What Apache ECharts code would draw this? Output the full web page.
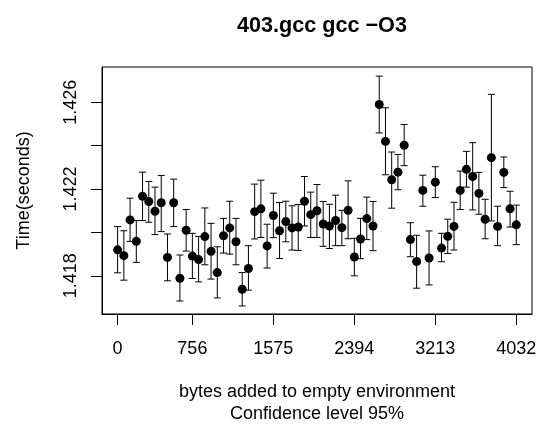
<!DOCTYPE html>
<html>
<head>
<meta charset="utf-8">
<script src="https://cdn.jsdelivr.net/npm/echarts@6/dist/echarts.min.js"></script>
<style>html,body{margin:0;padding:0;background:#fff}#c{width:544px;height:431px}</style>
</head>
<body>
<div id="c"></div>
<script>
const bytesAdded = [0,63,126,189,252,315,378,441,504,567,630,693,756,819,882,945,1008,1071,1134,1197,1260,1323,1386,1449,1512,1575,1638,1701,1764,1827,1890,1953,2016,2079,2142,2205,2268,2331,2394,2457,2520,2583,2646,2709,2772,2835,2898,2961,3024,3087,3150,3213,3276,3339,3402,3465,3528,3591,3654,3717,3780,3843,3906,3969,4032];
const meanTime = [
1.41920,1.41893,1.42058,1.41959,1.42167,1.42143,1.42098,1.42137,1.41885,1.42137,
1.41789,1.42010,1.41891,1.41875,1.41981,1.41913,1.41815,1.41985,1.42021,1.41957,
1.41738,1.41834,1.42096,1.42109,1.41938,1.42078,1.42008,1.42050,1.42021,1.42025,
1.42144,1.42082,1.42100,1.42039,1.42030,1.42055,1.42022,1.42102,1.41887,1.41970,
1.42064,1.42030,1.42590,1.42420,1.42243,1.42278,1.42402,1.41967,1.41866,1.42194,
1.41882,1.42232,1.41928,1.41982,1.42028,1.42194,1.42291,1.42258,1.42180,1.42061,
1.42345,1.42028,1.42277,1.42109,1.42035];
const upperCI = [
1.42027,1.42008,1.42158,1.42055,1.42278,1.42235,1.42209,1.42263,1.41993,1.42246,
1.41896,1.42106,1.41996,1.41982,1.42113,1.42042,1.41934,1.42065,1.42144,1.42065,
1.41815,1.41939,1.42223,1.42241,1.42038,1.42181,1.42138,1.42144,1.42123,1.42129,
1.42258,1.42186,1.42221,1.42143,1.42130,1.42172,1.42102,1.42238,1.41973,1.42065,
1.42163,1.42143,1.42721,1.42575,1.42371,1.42360,1.42498,1.42045,1.41987,1.42264,
1.42007,1.42303,1.41996,1.42061,1.42139,1.42283,1.42374,1.42414,1.42277,1.42153,
1.42637,1.42121,1.42348,1.42190,1.42126];
const lowerCI = [
1.41814,1.41780,1.41959,1.41862,1.42055,1.42047,1.41990,1.42004,1.41777,1.42027,
1.41684,1.41914,1.41788,1.41772,1.41851,1.41785,1.41698,1.41905,1.41900,1.41851,
1.41661,1.41734,1.41970,1.41977,1.41836,1.41976,1.41880,1.41957,1.41919,1.41917,
1.42030,1.41977,1.41977,1.41936,1.41926,1.41939,1.41939,1.41971,1.41800,1.41879,
1.41967,1.41916,1.42459,1.42266,1.42112,1.42197,1.42308,1.41888,1.41743,1.42121,
1.41758,1.42161,1.41865,1.41903,1.41919,1.42106,1.42209,1.42104,1.42084,1.41971,
1.42053,1.41939,1.42207,1.42025,1.41944];
const xTicks = [0,756,1575,2394,3213,4032];
const yTicks = [1.418,1.420,1.422,1.424,1.426];
const yTickLabels = [1.418,1.422,1.426];

const FONT = 'Liberation Sans, Arial, Helvetica, sans-serif';
const chart = echarts.init(document.getElementById('c'), null, {renderer:'canvas'});
const pts = bytesAdded.map((x,i)=>[x, meanTime[i]]);
const bars = bytesAdded.map((x,i)=>[x, lowerCI[i], upperCI[i]]);
chart.setOption({
  backgroundColor:'#fff',
  animation:false,
  title:{
    text:'403.gcc gcc \u2212O3',
    left:317, top:10, textAlign:'center',
    textStyle:{fontFamily:FONT, fontWeight:'bold', fontSize:21.6, color:'#000'}
  },
  grid:{left:102, right:12, top:67, bottom:117, show:true, borderColor:'#000', borderWidth:1, backgroundColor:'transparent'},
  xAxis:{
    type:'value', min:-158, max:4191,
    splitLine:{show:false},
    axisLine:{show:true, onZero:false, lineStyle:{color:'#000', width:1}},
    axisTick:{show:true, length:11, customValues:xTicks, lineStyle:{color:'#000'}},
    axisLabel:{customValues:xTicks, margin:26, fontFamily:FONT, fontSize:18, color:'#000',
      formatter:v=>String(v)},
    name:'bytes added to empty environment\nConfidence level 95%',
    nameLocation:'middle', nameGap:67,
    nameTextStyle:{fontFamily:FONT, fontSize:18, color:'#000', lineHeight:22}
  },
  yAxis:{
    type:'value', min:1.41624, max:1.42763,
    splitLine:{show:false},
    axisLine:{show:true, onZero:false, lineStyle:{color:'#000', width:1}},
    axisTick:{show:true, length:11, customValues:yTicks, lineStyle:{color:'#000'}},
    axisLabel:{customValues:yTickLabels, rotate:90, margin:22, fontFamily:FONT, fontSize:18, color:'#000',
      formatter:v=>v.toFixed(3)},
    name:'Time(seconds)', nameLocation:'middle', nameGap:69,
    nameTextStyle:{fontFamily:FONT, fontSize:18, color:'#000'}
  },
  series:[
    {
      type:'custom',
      data:bars,
      renderItem:function(params, api){
        const x = api.value(0);
        const lo = api.coord([x, api.value(1)]);
        const hi = api.coord([x, api.value(2)]);
        const w = 3.5;
        const st = {stroke:'#000', lineWidth:1};
        return {type:'group', children:[
          {type:'line', shape:{x1:lo[0], y1:lo[1], x2:hi[0], y2:hi[1]}, style:st},
          {type:'line', shape:{x1:hi[0]-w, y1:hi[1], x2:hi[0]+w, y2:hi[1]}, style:st},
          {type:'line', shape:{x1:lo[0]-w, y1:lo[1], x2:lo[0]+w, y2:lo[1]}, style:st}
        ]};
      },
      z:2
    },
    {
      type:'scatter', data:pts, symbol:'circle', symbolSize:9,
      itemStyle:{color:'#000', opacity:1}, z:3
    }
  ]
});
</script>
</body>
</html>
